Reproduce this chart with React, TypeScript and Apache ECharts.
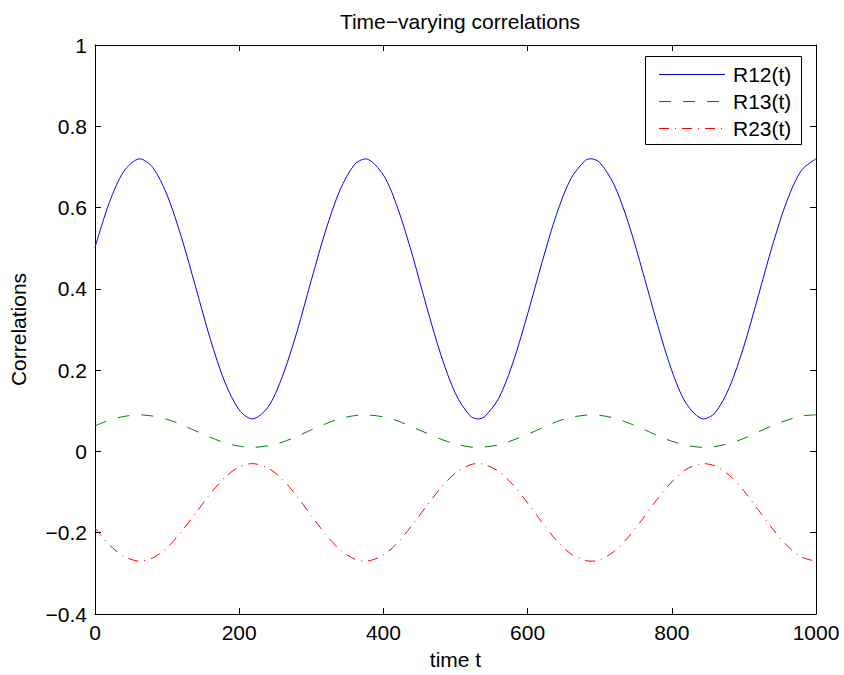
import React, { useEffect, useRef } from "react";
import * as echarts from "echarts";

const tValues = [
  0, 20, 40, 62, 80, 100, 120, 140, 160, 180, 200, 218, 240, 260, 280, 300, 320, 340, 360, 375, 400,
  420, 440, 460, 480, 500, 520, 531, 540, 560, 580, 600, 620, 640, 660, 680, 688, 700, 720, 740, 760,
  780, 800, 820, 844, 860, 880, 900, 920, 940, 960, 980, 1000,
];

const r12 = [
  0.502, 0.613, 0.689, 0.72, 0.699, 0.631, 0.526, 0.402, 0.276, 0.171, 0.102, 0.08, 0.109, 0.185,
  0.294, 0.421, 0.544, 0.644, 0.706, 0.72, 0.68, 0.598, 0.484, 0.356, 0.236, 0.142, 0.088, 0.08,
  0.085, 0.131, 0.22, 0.338, 0.465, 0.583, 0.671, 0.716, 0.72, 0.711, 0.656, 0.561, 0.44, 0.313,
  0.199, 0.118, 0.08, 0.095, 0.158, 0.259, 0.383, 0.509, 0.618, 0.692, 0.72,
];

const r13 = [
  0.063, 0.077, 0.086, 0.09, 0.087, 0.079, 0.066, 0.05, 0.035, 0.021, 0.013, 0.01, 0.014, 0.023,
  0.037, 0.053, 0.068, 0.081, 0.088, 0.09, 0.085, 0.075, 0.06, 0.045, 0.03, 0.018, 0.011, 0.01,
  0.011, 0.016, 0.028, 0.042, 0.058, 0.073, 0.084, 0.089, 0.09, 0.089, 0.082, 0.07, 0.055, 0.039,
  0.025, 0.015, 0.01, 0.012, 0.02, 0.032, 0.048, 0.064, 0.077, 0.087, 0.09,
];

const r23 = [
  -0.188, -0.23, -0.258, -0.27, -0.262, -0.237, -0.197, -0.151, -0.104, -0.064, -0.038, -0.03,
  -0.041, -0.069, -0.11, -0.158, -0.204, -0.242, -0.265, -0.27, -0.255, -0.224, -0.181, -0.134,
  -0.089, -0.053, -0.033, -0.03, -0.032, -0.049, -0.083, -0.127, -0.174, -0.219, -0.252, -0.268,
  -0.27, -0.267, -0.246, -0.21, -0.165, -0.117, -0.075, -0.044, -0.03, -0.036, -0.059, -0.097,
  -0.144, -0.191, -0.232, -0.26, -0.27,
];

const seriesNames = ["R12(t)", "R13(t)", "R23(t)"];
const seriesColors = ["#0000ff", "#008000", "#ff0000"];
const seriesDash: any[] = ["solid", [12, 12], [10, 6, 1, 6]];
const titleText = "Time\u2212varying correlations";
const xName = "time t";
const yName = "Correlations";

const FONT = "Liberation Sans, Arial, Helvetica, sans-serif";
const FS = 21;

function pairs(ys: number[]) {
  return tValues.map((t, i) => [t, ys[i]]);
}

export default function App() {
  const ref = useRef<HTMLDivElement>(null);
  useEffect(() => {
    if (!ref.current) return;
    const chart = echarts.init(ref.current, undefined, { renderer: "svg" });
    const axisLine = { show: true, onZero: false, lineStyle: { color: "#000", width: 1 } };
    const tick = { show: true, inside: true, length: 6, lineStyle: { color: "#000", width: 1 } };
    const yFmt = (v: number) => {
      const n = Number(v.toFixed(1));
      return n < 0 ? "\u2212" + String(Math.abs(n)) : String(n);
    };
    const xFmt = (v: number) => String(Math.round(v));
    const allSeries = [r12, r13, r23];

    // legend drawn as graphic elements (MATLAB-style box)
    const lgX = 645, lgY = 56, lgW = 156, lgH = 88, rowY0 = 74, rowStep = 27;
    const legendGraphics: any[] = [
      {
        type: "rect",
        shape: { x: lgX + 0.5, y: lgY + 0.5, width: lgW, height: lgH },
        style: { fill: "#fff", stroke: "#000", lineWidth: 1 },
        z: 100,
      },
    ];
    seriesNames.forEach((n, i) => {
      const y = rowY0 + i * rowStep + 0.5;
      const dash = seriesDash[i];
      legendGraphics.push({
        type: "line",
        shape: { x1: 659, y1: y, x2: 725, y2: y },
        style: {
          stroke: seriesColors[i],
          lineWidth: 1,
          lineDash: Array.isArray(dash) ? dash : null,
        },
        z: 101,
      });
      legendGraphics.push({
        type: "text",
        x: 733,
        y: y,
        style: {
          text: n,
          fill: "#000",
          font: `${FS}px ${FONT}`,
          verticalAlign: "middle",
          align: "left",
        },
        z: 101,
      });
    });

    chart.setOption({
      animation: false,
      backgroundColor: "#fff",
      textStyle: { fontFamily: FONT },
      title: {
        text: titleText,
        left: 455,
        textAlign: "center",
        top: 6,
        textStyle: { fontFamily: FONT, fontSize: FS, fontWeight: "normal", color: "#000" },
      },
      grid: { left: 95, right: 28, top: 45, bottom: 61, containLabel: false, outerBoundsMode: "none" },
      graphic: legendGraphics,
      xAxis: [
        {
          type: "value",
          min: 0,
          max: 1000,
          interval: 200,
          position: "bottom",
          name: xName,
          nameLocation: "middle",
          nameGap: 35,
          nameTextStyle: { fontFamily: FONT, fontSize: FS, color: "#000" },
          axisLine,
          axisTick: tick,
          splitLine: { show: false },
          axisLabel: { fontFamily: FONT, fontSize: FS, color: "#000", margin: 8, formatter: xFmt },
        },
        {
          type: "value",
          min: 0,
          max: 1000,
          interval: 200,
          position: "top",
          axisLine,
          axisTick: tick,
          splitLine: { show: false },
          axisLabel: { show: false },
        },
      ],
      yAxis: [
        {
          type: "value",
          min: -0.4,
          max: 1,
          interval: 0.2,
          position: "left",
          name: yName,
          nameLocation: "middle",
          nameGap: 66,
          nameTextStyle: { fontFamily: FONT, fontSize: FS, color: "#000" },
          axisLine,
          axisTick: tick,
          splitLine: { show: false },
          axisLabel: { fontFamily: FONT, fontSize: FS, color: "#000", margin: 8, formatter: yFmt },
        },
        {
          type: "value",
          min: -0.4,
          max: 1,
          interval: 0.2,
          position: "right",
          axisLine,
          axisTick: tick,
          splitLine: { show: false },
          axisLabel: { show: false },
        },
      ],
      series: seriesNames.map((n, i) => ({
        name: n,
        type: "line",
        data: pairs(allSeries[i]),
        smooth: 0.3,
        showSymbol: false,
        symbol: "none",
        lineStyle: { color: seriesColors[i], width: 1, type: seriesDash[i] },
        itemStyle: { color: seriesColors[i] },
      })),
    });
    return () => chart.dispose();
  }, []);
  return (
    <div
      ref={ref}
      style={{ position: "fixed", left: 0, top: 0, width: 844, height: 675, background: "#fff" }}
    />
  );
}
